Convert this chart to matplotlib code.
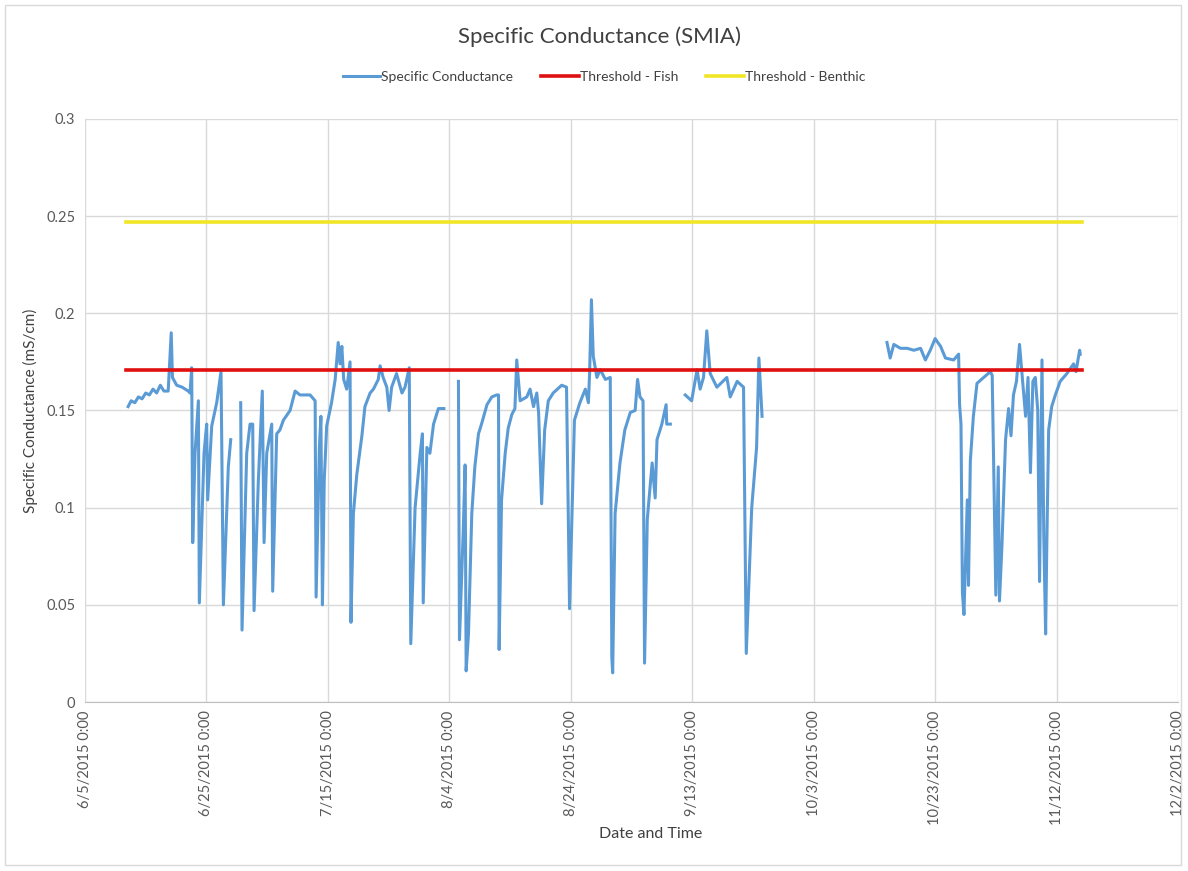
import matplotlib
matplotlib.use("Agg")
import matplotlib.pyplot as plt
import matplotlib.dates as mdates
import numpy as np
from datetime import datetime, timedelta

plt.rcParams['font.family'] = ['Lato', 'DejaVu Sans']

start = datetime(2015, 6, 5)

# days after 6/5/2015, nan marks a gap in the record
cond_days = [
    7.1, 7.6, 8.2, 8.8, 9.4, 10.0, 10.6, 11.2, 11.8, 12.4, 13.0, 13.7, 14.2, 14.4, 15.1, 16.0, 17.0, 17.3,
    17.57, 17.74, 18.12, 18.67, 18.83, 19.6, 20.04, 20.2, 20.87, 21.69, 22.4, 22.79, 23.6, 24.0, np.nan,
    25.64, 25.86, 26.63, 27.18, 27.62, 27.84, 28.55, 29.2, 29.49, 29.93, 30.75, 30.91, 31.57, 32.1,
    32.67, 33.77, 34.6, 35.4, 37.07, 37.9, 38.06, 38.6, 38.85, 39.1, 39.4, 39.8, 40.6, 41.2, 41.7,
    42.0, 42.3, 42.6, 43.1, 43.65, 43.8, 44.2, 44.76, 45.6, 46.1, 46.95, 47.5, 48.3, 48.6, 49.1, 49.7,
    50.08, 50.5, 51.3, 52.2, 52.7, 53.4, 53.65, 54.36, 55.2, 55.57, 55.7, 56.3, 56.8, 57.4, 58.2, 59.1,
    np.nan,
    61.5, 61.67, 62.3, 62.6, 62.77, 63.15, 63.7, 64.2, 64.8, 65.3, 66.2, 67.0, 67.8, 68.1, 68.2, 68.6,
    69.2, 69.7, 70.3, 70.8, 71.1, 71.66, 72.76, 73.3, 73.86, 74.4, 74.7, 75.2, 75.7, 76.3, 77.1, 78.5,
    79.3, 79.8, 80.2, 80.6, 81.5, 82.4, 82.9, 83.1, 83.4, 83.7, 84.3, 84.85, 85.7, 86.5, 86.76, 86.9,
    87.3, 88.1, 88.9, 89.8, 90.6, 91.0, 91.4, 91.9, 92.15, 92.6, 93.4, 93.9, 94.2, 95.0, 95.7, 95.8,
    96.4, np.nan,
    98.85, 99.9, 100.8, 101.3, 101.86, 102.4, 102.96, 104.06, 105.7, 106.26, 107.4, 108.45, 108.9,
    109.8, 110.6, 110.98, 111.5, np.nan,
    132.07, 132.6, 133.2, 134.3, 135.4, 136.5, 137.6, 138.4, 139.2, 140.0, 140.9, 141.7, 143.05,
    143.87, 144.03, 144.26, 144.5, 144.75, 145.3, 145.5, 145.8, 146.3, 146.9, 148.0, 149.1, 149.4,
    150.0, 150.4, 150.6, 151.0, 151.6, 152.1, 152.5, 152.9, 153.4, 153.9, 154.3, 154.9, 155.3, 155.7,
    156.1, 156.5, 156.9, 157.2, 157.6, 157.9, 158.2, 158.4, 158.7, 159.2, 159.8, 160.6, 161.7, 162.8,
    163.2, 163.8, 163.9,
]
cond_vals = [
    0.152, 0.155, 0.154, 0.157, 0.156, 0.159, 0.158, 0.161, 0.159, 0.163, 0.160, 0.160, 0.190, 0.167,
    0.163, 0.162, 0.160, 0.159,
    0.172, 0.082, 0.128, 0.155, 0.051, 0.128, 0.143, 0.104, 0.142, 0.154, 0.170, 0.050, 0.121, 0.135,
    np.nan,
    0.154, 0.037, 0.128, 0.143, 0.143, 0.047, 0.114, 0.160, 0.082, 0.128, 0.143, 0.057, 0.138, 0.140,
    0.145, 0.150, 0.160, 0.158, 0.158, 0.155, 0.054, 0.131, 0.147, 0.050, 0.114, 0.142, 0.154, 0.166,
    0.185, 0.174, 0.183, 0.166, 0.161, 0.175, 0.041, 0.097, 0.117, 0.137, 0.152, 0.159, 0.161, 0.166,
    0.173, 0.167, 0.162, 0.150, 0.162, 0.169, 0.159, 0.162, 0.172, 0.030, 0.100, 0.128, 0.138, 0.051,
    0.131, 0.128, 0.143, 0.151, 0.151, np.nan,
    0.165, 0.032, 0.089, 0.122, 0.016, 0.035, 0.097, 0.121, 0.138, 0.143, 0.153, 0.157, 0.158, 0.158,
    0.027, 0.104, 0.128, 0.141, 0.148, 0.151, 0.176, 0.155, 0.157, 0.161, 0.152, 0.159, 0.149, 0.102,
    0.140, 0.155, 0.159, 0.163, 0.162, 0.048, 0.097, 0.145, 0.154, 0.161, 0.154, 0.169, 0.207, 0.178,
    0.167, 0.171, 0.166, 0.167, 0.023, 0.015, 0.097, 0.123, 0.140, 0.149, 0.150, 0.166, 0.157, 0.155,
    0.020, 0.094, 0.123, 0.105, 0.135, 0.143, 0.153, 0.143, 0.143, np.nan,
    0.158, 0.155, 0.171, 0.161, 0.167, 0.191, 0.169, 0.162, 0.167, 0.157, 0.165, 0.162, 0.025, 0.100,
    0.131, 0.177, 0.147, np.nan,
    0.185, 0.177, 0.184, 0.182, 0.182, 0.181, 0.182, 0.176, 0.181, 0.187, 0.183, 0.177, 0.176, 0.179,
    0.153, 0.143, 0.056, 0.045, 0.104, 0.060, 0.124, 0.147, 0.164, 0.167, 0.170, 0.168, 0.055, 0.121,
    0.052, 0.080, 0.135, 0.151, 0.137, 0.158, 0.165, 0.184, 0.169, 0.147, 0.167, 0.118, 0.165, 0.167,
    0.150, 0.062, 0.176, 0.085, 0.035, 0.082, 0.140, 0.152, 0.158, 0.165, 0.169, 0.174, 0.170, 0.181,
    0.179,
]

thresh_days = [6.8, 164.2]
fish_vals = [0.171, 0.171]
benthic_vals = [0.247, 0.247]

cond_x = np.array([mdates.date2num(start + timedelta(days=float(d))) if not np.isnan(d) else np.nan
                   for d in cond_days])
thresh_x = mdates.date2num([start + timedelta(days=d) for d in thresh_days])

fig = plt.figure(figsize=(11.88, 8.71), dpi=100)
ax = fig.add_axes([85 / 1188, 1 - 702 / 871, (1178 - 85) / 1188, (702 - 119) / 871])

ax.plot(cond_x, cond_vals, color='#5b9bd5', lw=2.2, label='Specific Conductance', zorder=3)
ax.plot(thresh_x, fish_vals, color='#e01010', lw=2.6, label='Threshold - Fish', zorder=4)
ax.plot(thresh_x, benthic_vals, color='#f0e626', lw=2.6, label='Threshold - Benthic', zorder=4)

x0 = mdates.date2num(datetime(2015, 6, 5))
x1 = mdates.date2num(datetime(2015, 12, 2))
ax.set_xlim(x0, x1)
ax.set_ylim(0, 0.3)
ax.set_xticks(np.arange(x0, x1 + 1, 20))
ax.xaxis.set_major_formatter(
    plt.FuncFormatter(lambda v, p: (lambda d: f"{d.month}/{d.day}/{d.year} 0:00")(mdates.num2date(v))))
ax.set_yticks([0, 0.05, 0.1, 0.15, 0.2, 0.25, 0.3])
ax.set_yticklabels(['0', '0.05', '0.1', '0.15', '0.2', '0.25', '0.3'])

ax.grid(True, color='#d9d9d9', lw=1)
ax.set_axisbelow(True)
for s in ['top', 'right', 'left']:
    ax.spines[s].set_visible(False)
ax.spines['bottom'].set_color('#bfbfbf')
ax.tick_params(axis='both', length=0, colors='#595959', labelsize=10.5)
ax.tick_params(axis='x', rotation=90, pad=6)
ax.tick_params(axis='y', pad=7)

ax.set_xlabel('Date and Time', fontsize=11.5, color='#404040', labelpad=2)
ax.xaxis.label.set_x((651 - 85) / 1093)
ax.set_ylabel('Specific Conductance (mS/cm)', fontsize=11, color='#404040', labelpad=6)

fig.text(600 / 1188, 1 - 37 / 871, 'Specific Conductance (SMIA)', ha='center', va='center',
         fontsize=16, color='#404040')
fig.legend(loc='center', bbox_to_anchor=(604 / 1188, 1 - 77 / 871), ncol=3, frameon=False,
           fontsize=10, handlelength=2.7, handletextpad=0.1, columnspacing=2.0,
           labelcolor='#404040')

fig.patches.append(plt.Rectangle((5 / 1188, 6 / 871), 1176 / 1188, 860 / 871, transform=fig.transFigure,
                                 fill=False, edgecolor='#d9d9d9', lw=1))

fig.savefig('out.png', dpi=100)
